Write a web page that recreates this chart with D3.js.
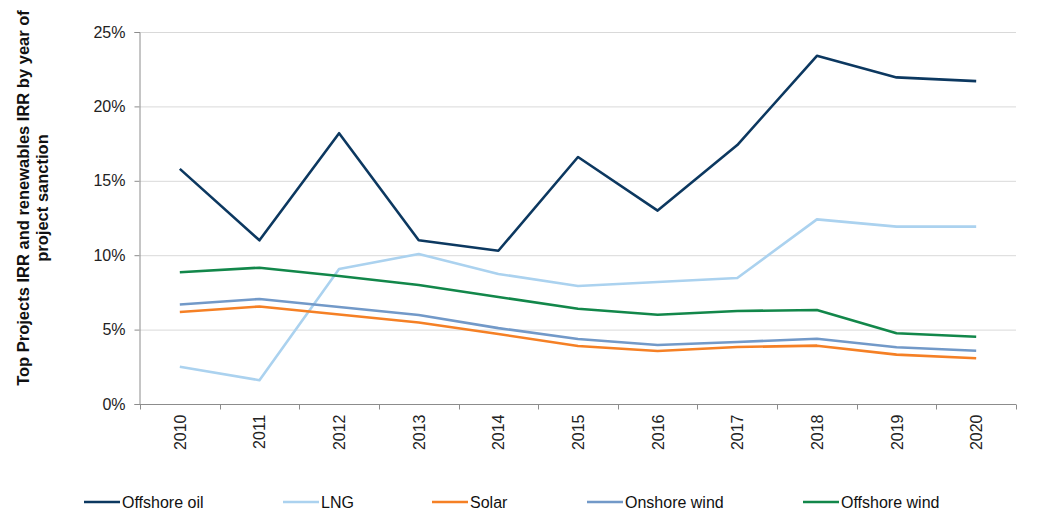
<!DOCTYPE html>
<html>
<head>
<meta charset="utf-8">
<script src="https://cdn.jsdelivr.net/npm/d3@7"></script>
<style>
  html, body { margin: 0; padding: 0; background: #fff; }
  svg { display: block; font-family: "Liberation Sans", Arial, sans-serif; }
</style>
</head>
<body>
<svg id="chart" width="1044" height="517"></svg>
<script>
// Years of project sanction
const years = ["2010","2011","2012","2013","2014","2015","2016","2017","2018","2019","2020"];

// IRR by year (%)
const offshoreOil  = [15.8, 11.0, 18.2, 11.0, 10.3, 16.6, 13.0, 17.4, 23.4, 21.95, 21.7];
const lng          = [2.5, 1.6, 9.07, 10.08, 8.74, 7.93, 8.2, 8.47, 12.41, 11.92, 11.92];
const solar        = [6.18, 6.55, 6.02, 5.48, 4.7, 3.9, 3.56, 3.83, 3.92, 3.32, 3.07];
const onshoreWind  = [6.69, 7.06, 6.52, 5.98, 5.1, 4.37, 3.97, 4.17, 4.39, 3.81, 3.58];
const offshoreWind = [8.85, 9.16, 8.6, 8.0, 7.19, 6.4, 6.0, 6.25, 6.32, 4.75, 4.52];

const yTicks = [0, 5, 10, 15, 20, 25];

const series = [
  { name: "Offshore oil",  values: offshoreOil,  color: "#0c3860" },
  { name: "LNG",           values: lng,          color: "#abd2ef" },
  { name: "Solar",         values: solar,        color: "#f58025" },
  { name: "Onshore wind",  values: onshoreWind,  color: "#7299c8" },
  { name: "Offshore wind", values: offshoreWind, color: "#12874a" }
];

const svg = d3.select("#chart");
const plotLeft = 140, plotRight = 1016, plotTop = 32, plotBottom = 404;
const fontSize = 16;

const x = d3.scaleBand().domain(years).range([plotLeft, plotRight]);
const y = d3.scaleLinear().domain([0, 25]).range([plotBottom, plotTop]);

// horizontal gridlines
svg.append("g")
  .selectAll("line")
  .data(yTicks.filter(d => d > 0))
  .join("line")
  .attr("x1", plotLeft).attr("x2", plotRight)
  .attr("y1", d => y(d) + 0.5).attr("y2", d => y(d) + 0.5)
  .attr("stroke", "#d9d9d9").attr("stroke-width", 1);

// y axis
const yAxis = svg.append("g")
  .attr("transform", `translate(${plotLeft - 0.5},0)`)
  .call(d3.axisLeft(y).tickValues(yTicks).tickFormat(d => d + "%").tickSizeOuter(0).tickSize(5).tickPadding(9));
yAxis.select(".domain").attr("stroke", "#8c8c8c");
yAxis.selectAll(".tick line").attr("stroke", "#8c8c8c");
yAxis.selectAll(".tick text")
  .attr("font-size", fontSize).attr("fill", "#222")
  .attr("font-family", "Liberation Sans, Arial, sans-serif");

// x axis with ticks between categories
const xg = svg.append("g").attr("transform", `translate(0,${plotBottom + 0.5})`);
xg.append("line")
  .attr("x1", plotLeft - 1).attr("x2", plotRight)
  .attr("stroke", "#8c8c8c");
const bounds = years.map(d => x(d)).concat([plotRight]);
xg.selectAll("line.tk")
  .data(bounds)
  .join("line").attr("class", "tk")
  .attr("x1", d => Math.round(d) + 0.5).attr("x2", d => Math.round(d) + 0.5)
  .attr("y1", 0).attr("y2", 5)
  .attr("stroke", "#8c8c8c");
xg.selectAll("text")
  .data(years)
  .join("text")
  .attr("transform", d => `translate(${x(d) + x.bandwidth() / 2 + 6},10) rotate(-90)`)
  .attr("text-anchor", "end")
  .attr("font-size", fontSize).attr("fill", "#222")
  .text(d => d);

// series lines
const line = d3.line()
  .x((d, i) => x(years[i]) + x.bandwidth() / 2)
  .y(d => y(d));

svg.append("g")
  .selectAll("path")
  .data(series)
  .join("path")
  .attr("d", s => line(s.values))
  .attr("fill", "none")
  .attr("stroke", s => s.color)
  .attr("stroke-width", 2.6)
  .attr("stroke-linejoin", "round");

// y axis title
svg.append("text")
  .attr("transform", "rotate(-90)")
  .attr("font-size", 16.5).attr("font-weight", "bold").attr("fill", "#111")
  .attr("text-anchor", "middle")
  .selectAll("tspan")
  .data(["Top Projects IRR and renewables IRR by year of", "project sanction"])
  .join("tspan")
  .attr("x", -198)
  .attr("y", (d, i) => 29 + i * 19)
  .text(d => d);

// legend
const legendX = [84, 283, 432, 587, 803];
const lg = svg.append("g")
  .selectAll("g")
  .data(series)
  .join("g")
  .attr("transform", (d, i) => `translate(${legendX[i]},502)`);
lg.append("line")
  .attr("x1", 0).attr("x2", 36).attr("y1", 0).attr("y2", 0)
  .attr("stroke", d => d.color).attr("stroke-width", 2.6);
lg.append("text")
  .attr("x", 38).attr("y", 6)
  .attr("font-size", fontSize).attr("fill", "#111")
  .text(d => d.name);
</script>
</body>
</html>
